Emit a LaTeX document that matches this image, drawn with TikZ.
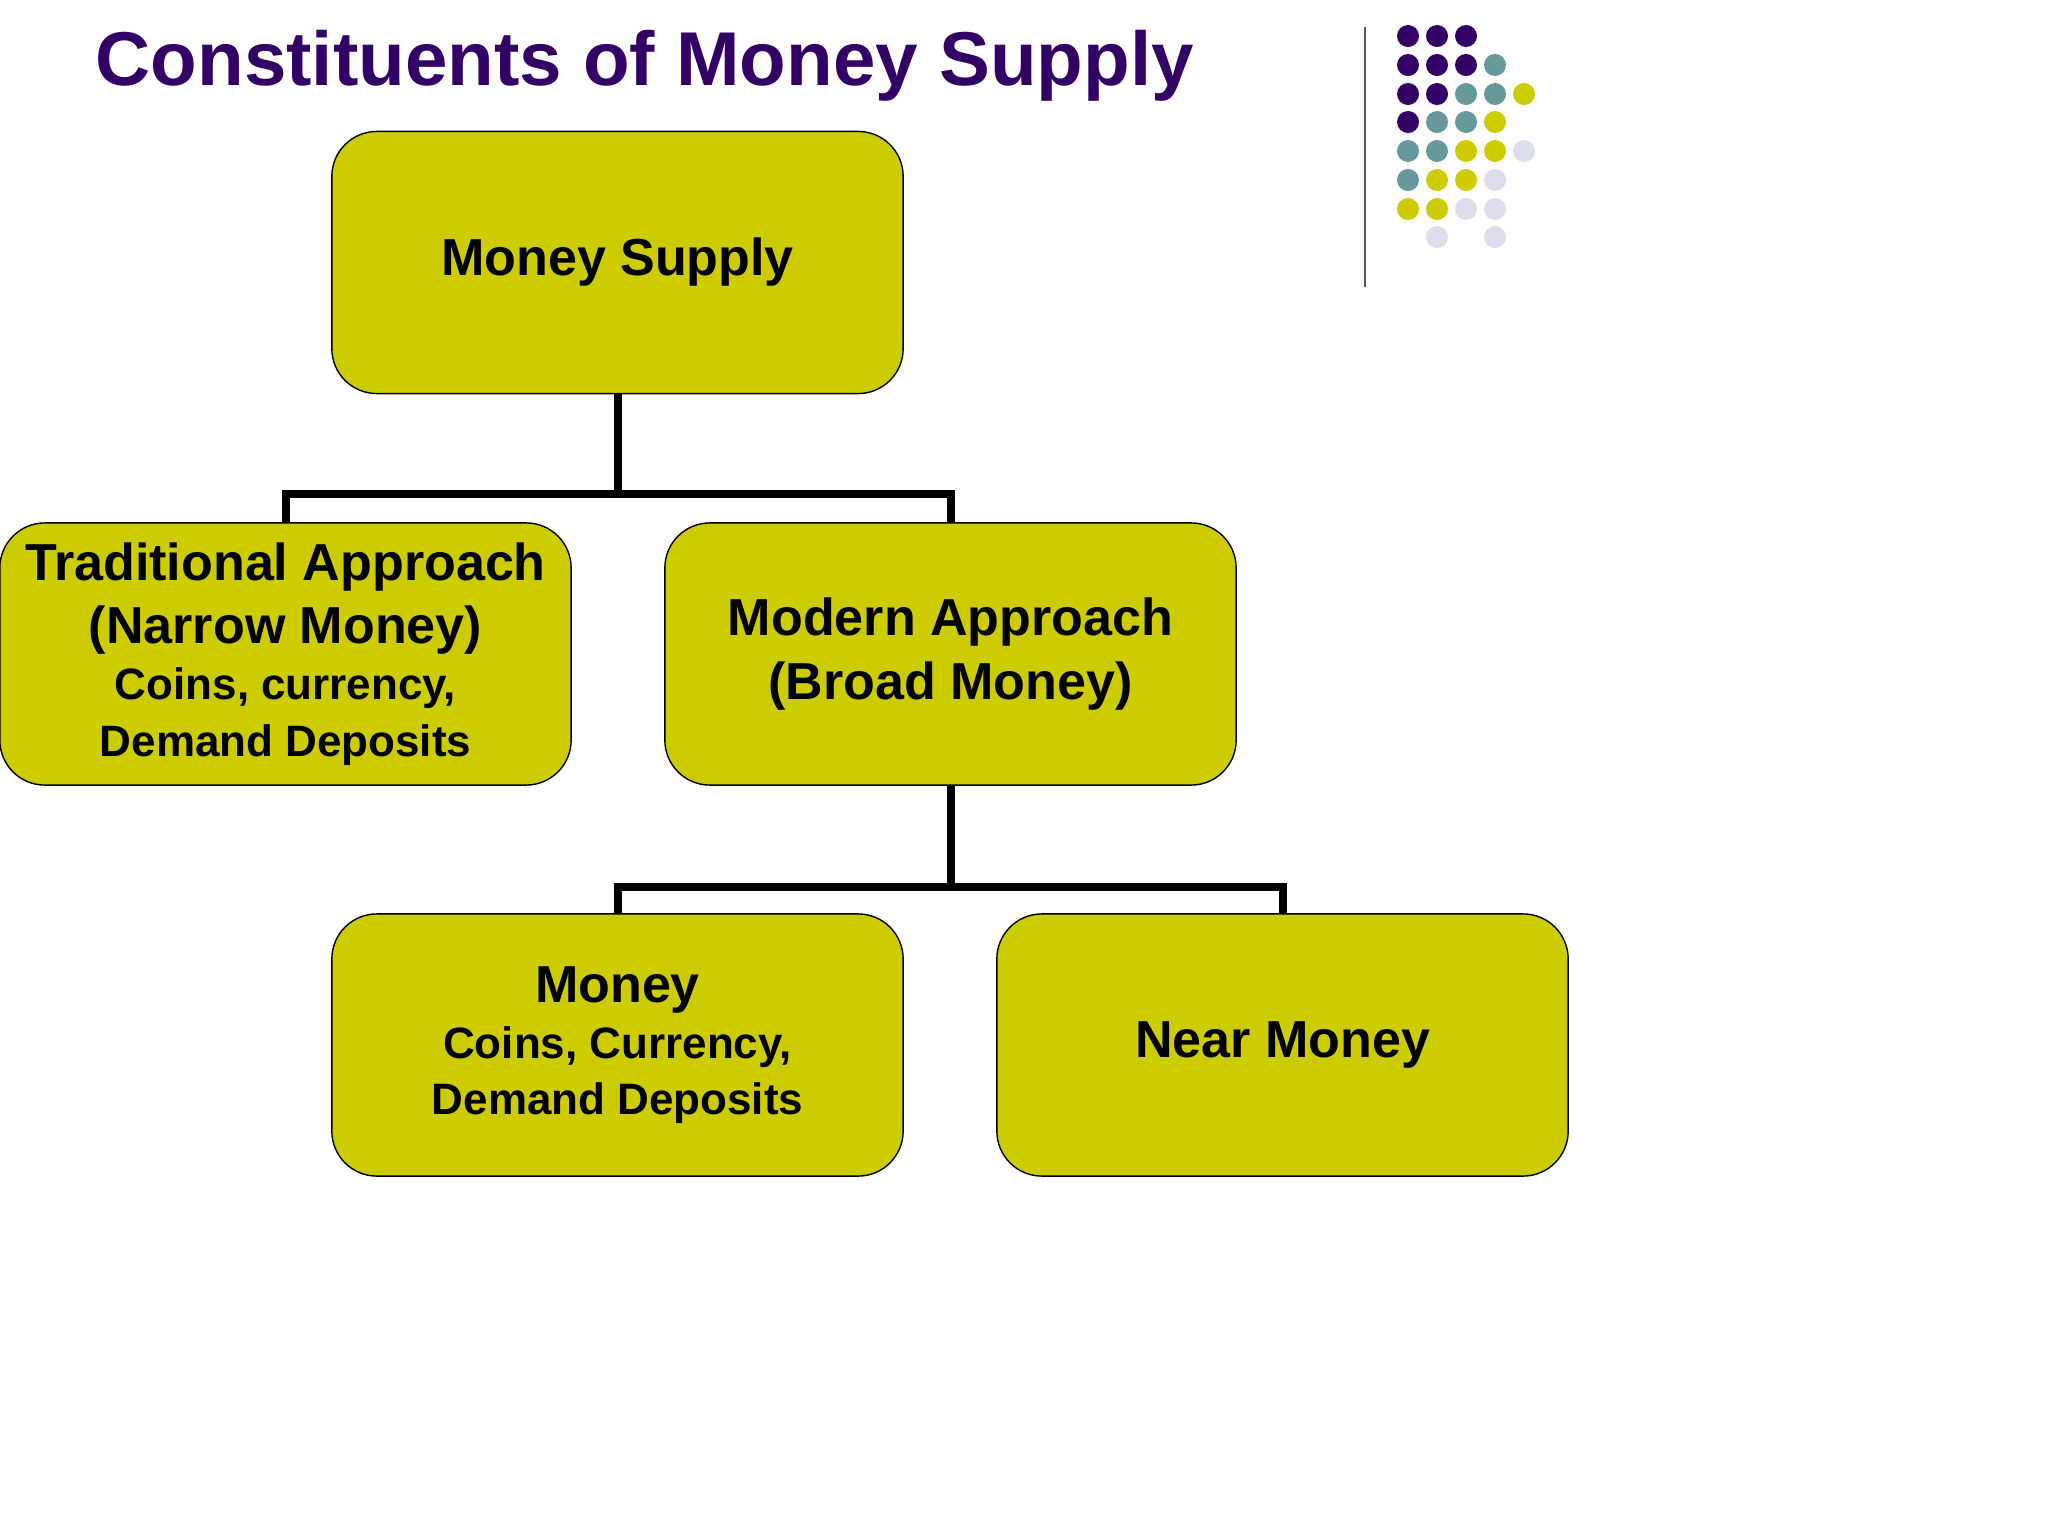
\documentclass[tikz,border=0pt]{standalone}
\usepackage{fontspec}
\setmainfont{Liberation Sans}
\definecolor{olive}{HTML}{CCCC00}
\definecolor{purp}{HTML}{330066}
\definecolor{teal2}{HTML}{669999}
\definecolor{lav}{HTML}{DDDDEE}
\newcommand{\smtxt}{\fontsize{12.5}{15}\selectfont}
\begin{document}
\begin{tikzpicture}[x=0.01cm,y=-0.01cm,
 box/.style={draw=black,fill=olive,rounded corners=0.45cm,minimum width=5.71cm,minimum height=2.62cm,align=center,inner sep=0pt,font=\bfseries\fontsize{14.8}{18}\selectfont},
 conn/.style={line width=0.08cm}]
\useasboundingbox (0,0) rectangle (2048,1536);
\node[anchor=west,text=purp,font=\bfseries\fontsize{21.7}{26}\selectfont,inner sep=0] (title) at (95,66) {Constituents of Money Supply};
\draw[gray!70!black,line width=0.5pt] (1365,27) -- (1365,287);
\foreach \r/\cols in {36/{1408/purp,1437/purp,1466/purp},65/{1408/purp,1437/purp,1466/purp,1495/teal2},94/{1408/purp,1437/purp,1466/teal2,1495/teal2,1524/olive},122/{1408/purp,1437/teal2,1466/teal2,1495/olive},151/{1408/teal2,1437/teal2,1466/olive,1495/olive,1524/lav},180/{1408/teal2,1437/olive,1466/olive,1495/lav},209/{1408/olive,1437/olive,1466/lav,1495/lav},237/{1437/lav,1495/lav}}
 \foreach \c/\col in \cols \fill[\col] (\c,\r) circle (0.11cm);
\node[box] (ms) at (617.5,262.5) {Money Supply};
\node[box] (ta) at (285.5,654) {Traditional Approach\\(Narrow Money)\\[-2pt]{\smtxt Coins, currency,}\\[-2pt]{\smtxt Demand Deposits}};
\node[box] (ma) at (950.5,654) {Modern Approach\\(Broad Money)};
\node[box] (mo) at (617.5,1045) {Money\\[-2pt]{\smtxt Coins, Currency,}\\[-2pt]{\smtxt Demand Deposits}};
\node[box] (nm) at (1282.5,1045) {Near Money};
\draw[conn] (ms.south) -- ++(0,100) -| (ta.north);
\draw[conn] (ms.south) ++(0,100) -| (ma.north);
\draw[conn] (ma.south) -- ++(0,101) -| (mo.north);
\draw[conn] (ma.south) ++(0,101) -| (nm.north);
\end{tikzpicture}
\end{document}
